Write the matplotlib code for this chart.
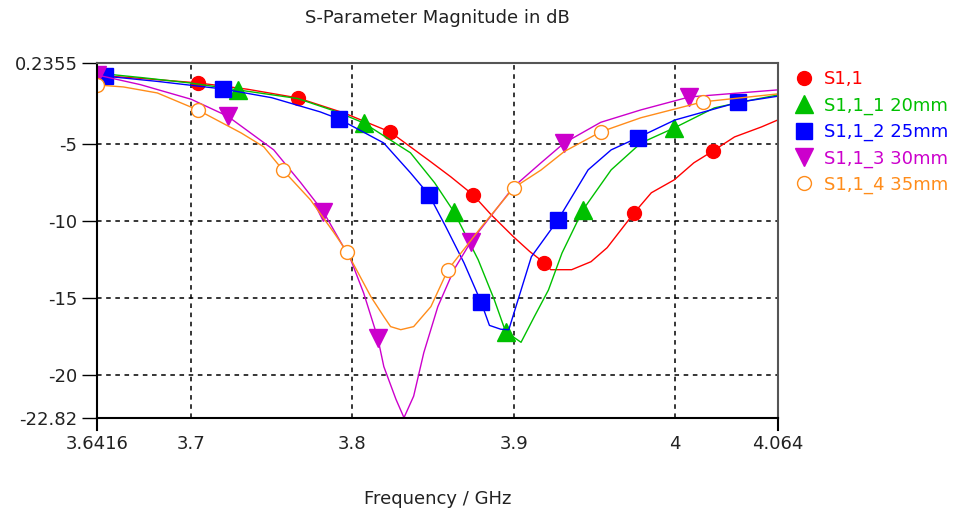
import matplotlib
matplotlib.use("Agg")
import matplotlib.pyplot as plt
from matplotlib.lines import Line2D

# S1,1 (reference)
f_s11 = [3.6416, 3.6700, 3.7045, 3.7350, 3.7660, 3.7950, 3.8233, 3.8470, 3.8610, 3.8748,
         3.8860, 3.9000, 3.9100, 3.9190, 3.9230, 3.9360, 3.9480, 3.9580, 3.9748, 3.9854,
         3.9996, 4.0118, 4.0238, 4.0370, 4.0537, 4.0640]
db_s11 = [-0.55, -0.75, -1.04, -1.45, -2.01, -3.0, -4.22, -6.04, -7.14, -8.31,
          -9.6, -11.05, -12.0, -12.73, -13.18, -13.18, -12.66, -11.75, -9.48, -8.18,
          -7.34, -6.23, -5.45, -4.55, -3.9, -3.44]
mk_s11 = [2, 4, 6, 9, 13, 18, 22]

# S1,1_1 20mm
f_20 = [3.6416, 3.6700, 3.7000, 3.7289, 3.7660, 3.7900, 3.8070, 3.8360, 3.8510, 3.8630,
        3.8780, 3.8880, 3.8950, 3.9046, 3.9130, 3.9216, 3.9300, 3.9430, 3.9605, 3.9790,
        3.9997, 4.0245, 4.0450, 4.0640]
db_20 = [-0.4, -0.7, -1.05, -1.49, -2.05, -2.9, -3.64, -5.58, -7.53, -9.42,
         -12.53, -15.13, -17.2, -17.9, -16.2, -14.5, -12.1, -9.29, -6.69, -4.94,
         -3.96, -2.66, -2.2, -1.82]
mk_20 = [3, 6, 9, 12, 17, 20]

# S1,1_2 25mm
f_25 = [3.6416, 3.6468, 3.6800, 3.7195, 3.7500, 3.7800, 3.7916, 3.8194, 3.8360, 3.8475,
        3.8580, 3.8692, 3.8797, 3.8850, 3.8920, 3.8970, 3.9110, 3.9275, 3.9462, 3.9605,
        3.9770, 4.0000, 4.0393, 4.0640]
db_25 = [-0.55, -0.6, -0.95, -1.43, -2.0, -2.92, -3.38, -4.94, -6.88, -8.31,
         -10.4, -12.73, -15.26, -16.8, -17.05, -17.08, -12.34, -9.94, -6.69, -5.39,
         -4.6, -3.45, -2.3, -1.9]
mk_25 = [1, 3, 6, 9, 12, 17, 20, 22]

# S1,1_3 30mm
f_30 = [3.6416, 3.6685, 3.7000, 3.7226, 3.7512, 3.7680, 3.7820, 3.7990, 3.8070, 3.8157,
        3.8195, 3.8270, 3.8320, 3.8380, 3.8443, 3.8530, 3.8630, 3.8735, 3.9000, 3.9170,
        3.9314, 3.9540, 3.9790, 4.0090, 4.0640]
db_30 = [-0.52, -1.15, -2.1, -3.2, -5.39, -7.53, -9.42, -12.53, -14.7, -17.6,
         -19.48, -21.6, -22.8, -21.4, -18.57, -15.58, -13.18, -11.36, -7.79, -6.23,
         -4.94, -3.6, -2.79, -1.95, -1.49]
mk_30 = [0, 3, 6, 9, 17, 20, 23]

# S1,1_4 35mm
f_35 = [3.6416, 3.6580, 3.6790, 3.7040, 3.7310, 3.7450, 3.7568, 3.7740, 3.7886, 3.7965,
        3.8115, 3.8195, 3.8237, 3.8300, 3.8380, 3.8487, 3.8593, 3.8800, 3.9000, 3.9170,
        3.9314, 3.9540, 3.9790, 4.0173, 4.0640]
db_35 = [-1.17, -1.3, -1.69, -2.79, -4.29, -5.19, -6.69, -8.64, -10.78, -12.0,
         -14.94, -16.23, -16.88, -17.08, -16.88, -15.58, -13.18, -10.4, -7.86, -6.7,
         -5.5, -4.22, -3.3, -2.27, -1.75]
mk_35 = [0, 3, 6, 9, 16, 18, 21, 23]

labels = ["S1,1", "S1,1_1 20mm", "S1,1_2 25mm", "S1,1_3 30mm", "S1,1_4 35mm"]
colors = ["#ff0000", "#00c000", "#0000ff", "#cc00cc", "#ff8c1a"]

xticks = [3.6416, 3.7, 3.8, 3.9, 4.0, 4.064]
xtick_labels = ["3.6416", "3.7", "3.8", "3.9", "4", "4.064"]
yticks = [0.2355, -5, -10, -15, -20, -22.82]
ytick_labels = ["0.2355", "-5", "-10", "-15", "-20", "-22.82"]

plt.rcParams["font.family"] = "DejaVu Sans"
fig = plt.figure(figsize=(9.67, 5.14), dpi=100)
ax = fig.add_axes([0.1003, 0.1868, 0.7043, 0.69])

series = [(f_s11, db_s11, mk_s11), (f_20, db_20, mk_20), (f_25, db_25, mk_25),
          (f_30, db_30, mk_30), (f_35, db_35, mk_35)]
markers = ["o", "^", "s", "v", "o"]
msizes = [10, 12.5, 12, 12.5, 10]

for i, (f, db, mk) in enumerate(series):
    face = "white" if i == 4 else colors[i]
    ax.plot(f, db, color=colors[i], lw=1.0, marker=markers[i], markersize=msizes[i],
            markevery=mk, markerfacecolor=face, markeredgecolor=colors[i],
            markeredgewidth=1.0, clip_on=True)

ax.set_xlim(xticks[0], xticks[-1])
ax.set_ylim(yticks[-1], yticks[0])
ax.set_xticks(xticks)
ax.set_xticklabels(xtick_labels)
ax.set_yticks(yticks)
ax.set_yticklabels(ytick_labels)
ax.tick_params(axis="x", length=0, pad=12, labelsize=13, labelcolor="#222222")
ax.tick_params(axis="y", length=11, width=1, pad=3, labelsize=13, labelcolor="#222222")
ax.grid(True, color="black", linestyle=(0, (3, 3)), linewidth=1.1)

for side in ["left", "bottom"]:
    ax.spines[side].set_color("black")
    ax.spines[side].set_linewidth(1.5)
for side in ["top", "right"]:
    ax.spines[side].set_color("#555555")
    ax.spines[side].set_linewidth(1.5)

# short ticks below the axis at both ends of the frequency range
for xe in (xticks[0], xticks[-1]):
    ax.plot([xe, xe], [0, -0.034], transform=ax.get_xaxis_transform(),
            color="black", lw=1.5, clip_on=False)

ax.set_title("S-Parameter Magnitude in dB", fontsize=13, pad=29, color="#222222")
ax.set_xlabel("Frequency / GHz", fontsize=13, labelpad=27, color="#222222")

handles = []
for i in range(5):
    face = "white" if i == 4 else colors[i]
    handles.append(Line2D([], [], ls="none", marker=markers[i], markersize=msizes[i],
                          markerfacecolor=face, markeredgecolor=colors[i]))
leg = fig.legend(handles, labels, loc="upper left", bbox_to_anchor=(0.815, 0.877),
                 frameon=False, fontsize=13, handlelength=1.0, handletextpad=0.6,
                 labelspacing=0.45, borderaxespad=0)
for txt, c in zip(leg.get_texts(), colors):
    txt.set_color(c)

fig.savefig("out.png", dpi=100)
